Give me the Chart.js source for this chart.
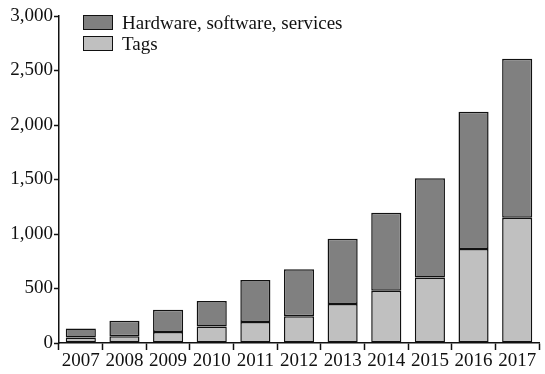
<!DOCTYPE html>
<html>
<head>
<meta charset="utf-8">
<script src="https://cdn.jsdelivr.net/npm/chart.js@4"></script>
<style>
  html, body { margin: 0; padding: 0; background: #fff; }
  .wrap { position: relative; width: 545px; height: 374px; }
  #legend { position: absolute; left: 83px; top: 12px; font-family: 'Liberation Serif', serif; font-size: 19px; color: #111; }
  #legend div { display: flex; align-items: center; height: 21px; }
  #legend span.box { display: inline-block; width: 28px; height: 13px; border: 1.5px solid #111; margin-right: 9px; }
</style>
</head>
<body>
<div class="wrap">
  <canvas id="myChart" width="545" height="374"></canvas>
  <div id="legend"></div>
</div>
<script>
const years = ['2007', '2008', '2009', '2010', '2011', '2012', '2013', '2014', '2015', '2016', '2017'];
const tags = [50, 62, 100, 152, 193, 245, 358, 480, 600, 862, 1150];
const hardware = [83, 143, 205, 233, 385, 431, 599, 715, 911, 1260, 1458];
const yTicks = [0, 500, 1000, 1500, 2000, 2500, 3000];

const seriesNames = ['Hardware, software, services', 'Tags'];
const seriesColors = ['#808080', '#c0c0c0'];

const ctx = document.getElementById('myChart').getContext('2d');
Chart.defaults.font.family = "'Liberation Serif', serif";
Chart.defaults.color = '#111';

new Chart(ctx, {
    type: 'bar',
    data: {
        labels: years,
        datasets: [{
            label: seriesNames[1],
            data: tags,
            backgroundColor: seriesColors[1],
            borderColor: '#111',
            borderWidth: 1.5,
            borderSkipped: false,
            barPercentage: 0.69,
            categoryPercentage: 1
        }, {
            label: seriesNames[0],
            data: hardware,
            backgroundColor: seriesColors[0],
            borderColor: '#111',
            borderWidth: 1.5,
            borderSkipped: false,
            barPercentage: 0.69,
            categoryPercentage: 1
        }]
    },
    options: {
        responsive: false,
        animation: false,
        layout: {
            padding: { top: 16, right: 6, left: 0, bottom: 0 }
        },
        plugins: {
            legend: { display: false },
            tooltip: { enabled: false }
        },
        scales: {
            x: {
                stacked: true,
                grid: {
                    offset: true,
                    drawOnChartArea: false,
                    tickLength: 7,
                    tickColor: '#111',
                    tickWidth: 1.5
                },
                border: { color: '#111', width: 1.5 },
                ticks: {
                    font: { size: 19 },
                    padding: 0,
                    maxRotation: 0,
                    autoSkip: false
                },
                afterFit: (scale) => { scale.height = 31; }
            },
            y: {
                stacked: true,
                min: 0,
                max: 3000,
                afterBuildTicks: (scale) => {
                    scale.ticks = yTicks.map(v => ({ value: v }));
                },
                grid: {
                    drawOnChartArea: false,
                    tickLength: 5,
                    tickColor: '#111',
                    tickWidth: 1.5
                },
                border: { color: '#111', width: 1.5 },
                ticks: {
                    font: { size: 19 },
                    padding: 1,
                    callback: (v) => v.toLocaleString('en-US')
                },
                afterFit: (scale) => { scale.width = 59; }
            }
        }
    }
});

const legend = document.getElementById('legend');
seriesNames.forEach((name, i) => {
    const row = document.createElement('div');
    row.innerHTML = '<span class="box" style="background:' + seriesColors[i] + '"></span>' + name;
    legend.appendChild(row);
});
</script>
</body>
</html>
